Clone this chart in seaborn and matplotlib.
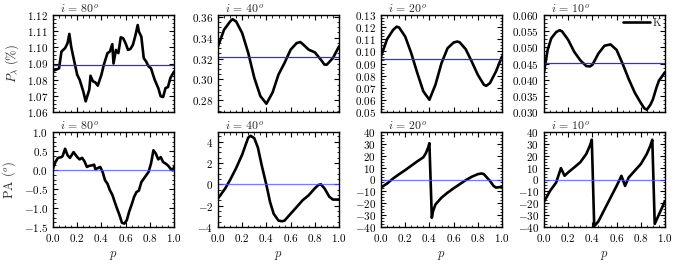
import numpy as np
import pandas as pd
import seaborn as sns
import matplotlib
matplotlib.use("Agg")
import matplotlib.pyplot as plt
from matplotlib.ticker import MultipleLocator, AutoMinorLocator, ScalarFormatter

# ---------------- data ----------------
inclinations = ["80", "40", "20", "10"]

# P_lambda (%), i = 80
p_pol80 = [0.0, 0.02, 0.05, 0.07, 0.10, 0.12, 0.135, 0.15, 0.17, 0.20, 0.22, 0.25, 0.27, 0.30, 0.31, 0.33,
           0.35, 0.37, 0.40, 0.42, 0.45, 0.47, 0.49, 0.50, 0.52, 0.54, 0.56, 0.58, 0.60, 0.62, 0.64, 0.66,
           0.68, 0.70, 0.71, 0.73, 0.75, 0.77, 0.79, 0.81, 0.84, 0.87, 0.89, 0.91, 0.93, 0.95, 0.97, 1.0]
pol80 = [1.0855, 1.086, 1.087, 1.0974, 1.0995, 1.1025, 1.1083, 1.1005, 1.0933, 1.083, 1.080, 1.0728,
         1.0666, 1.0738, 1.0824, 1.079, 1.0783, 1.0763, 1.083, 1.0892, 1.0964, 1.0974, 1.102, 1.090,
         1.0984, 1.0964, 1.1062, 1.1056, 1.1025, 1.0984, 1.099, 1.1015, 1.107, 1.1138, 1.1097, 1.1066,
         1.0933, 1.0912, 1.0882, 1.087, 1.080, 1.0748, 1.0697, 1.0693, 1.0748, 1.0754, 1.081, 1.085]

# P_lambda (%), i = 40
p_pol40 = [0.0, 0.05, 0.10, 0.12, 0.15, 0.20, 0.25, 0.30, 0.35, 0.40, 0.45, 0.50, 0.55, 0.60, 0.65,
           0.68, 0.70, 0.75, 0.80, 0.85, 0.88, 0.90, 0.95, 1.0]
pol40 = [0.3316, 0.3474, 0.3553, 0.3575, 0.3553, 0.3442, 0.3253, 0.3016, 0.2842, 0.2769, 0.2873,
         0.3047, 0.3158, 0.3284, 0.3347, 0.3357, 0.3338, 0.3284, 0.3259, 0.3189, 0.3142, 0.3142,
         0.3205, 0.3316]

# P_lambda (%), i = 20
p_pol20 = [0.0, 0.05, 0.10, 0.13, 0.15, 0.20, 0.25, 0.30, 0.35, 0.40, 0.45, 0.50, 0.55, 0.60, 0.63,
           0.65, 0.70, 0.75, 0.80, 0.85, 0.87, 0.90, 0.95, 1.0]
pol20 = [0.0958, 0.110, 0.1177, 0.1204, 0.1196, 0.1122, 0.0985, 0.0821, 0.067, 0.0601, 0.0725,
         0.0903, 0.1026, 0.1073, 0.1081, 0.1075, 0.1018, 0.0916, 0.0807, 0.0725, 0.0716, 0.0738,
         0.0834, 0.0958]

# P_lambda (%), i = 10
p_pol10 = [0.0, 0.03, 0.06, 0.10, 0.13, 0.15, 0.20, 0.25, 0.30, 0.35, 0.38, 0.40, 0.45, 0.50, 0.55,
           0.60, 0.65, 0.70, 0.75, 0.80, 0.83, 0.85, 0.88, 0.90, 0.93, 0.95, 1.0]
pol10 = [0.0423, 0.0492, 0.0528, 0.0547, 0.0553, 0.0549, 0.0523, 0.0486, 0.046, 0.0442, 0.0441,
         0.0446, 0.0481, 0.0505, 0.0509, 0.0492, 0.0449, 0.0402, 0.036, 0.0328, 0.0311, 0.0307,
         0.0323, 0.0339, 0.0376, 0.0397, 0.0423]

# PA (deg), i = 80
p_pa80 = [0.0, 0.02, 0.04, 0.07, 0.08, 0.10, 0.12, 0.14, 0.17, 0.20, 0.22, 0.24, 0.26, 0.28, 0.30,
          0.32, 0.34, 0.35, 0.37, 0.39, 0.41, 0.43, 0.45, 0.47, 0.49, 0.51, 0.53, 0.55, 0.57, 0.59,
          0.61, 0.63, 0.65, 0.67, 0.69, 0.71, 0.73, 0.75, 0.77, 0.79, 0.81, 0.83, 0.85, 0.87, 0.89,
          0.91, 0.93, 0.95, 0.97, 0.99, 1.0]
pa80 = [0.035, 0.21, 0.316, 0.34, 0.37, 0.56, 0.39, 0.32, 0.47, 0.34, 0.28, 0.32, 0.23, 0.08, 0.11,
        0.12, 0.14, 0.02, 0.05, 0.08, -0.05, -0.27, -0.36, -0.53, -0.65, -0.84, -1.02, -1.19, -1.39,
        -1.41, -1.32, -1.09, -0.91, -0.71, -0.58, -0.54, -0.32, -0.23, -0.14, -0.05, 0.17, 0.52, 0.43,
        0.28, 0.34, 0.21, 0.17, 0.12, 0.04, -0.01, 0.08]

# PA (deg), i = 40
p_pa40 = [0.0, 0.03, 0.06, 0.10, 0.15, 0.20, 0.23, 0.25, 0.27, 0.30, 0.33, 0.36, 0.40, 0.43, 0.46,
          0.50, 0.53, 0.55, 0.60, 0.65, 0.70, 0.75, 0.80, 0.83, 0.85, 0.88, 0.92, 0.95, 1.0]
pa40 = [-1.33, -0.86, -0.38, 0.41, 1.52, 2.79, 3.75, 4.38, 4.54, 4.32, 3.43, 1.84, -0.06, -1.65,
        -2.76, -3.40, -3.46, -3.40, -2.76, -2.13, -1.49, -1.02, -0.38, -0.06, 0.0, -0.38, -1.17,
        -1.43, -1.43]

# PA (deg), i = 20
p_pa20 = [0.0, 0.05, 0.10, 0.15, 0.20, 0.25, 0.30, 0.35, 0.37, 0.39, 0.40, 0.42, 0.43, 0.45, 0.50,
          0.55, 0.60, 0.65, 0.70, 0.75, 0.80, 0.83, 0.85, 0.90, 0.93, 0.95, 1.0]
pa20 = [-6.8, -3.4, 0.85, 4.5, 7.9, 11.6, 15.3, 18.7, 22.0, 27.0, 30.6, -32.3, -26.7, -21.0, -15.3,
        -11.1, -7.4, -4.0, -0.6, 2.3, 4.5, 5.1, 4.5, -1.1, -5.4, -6.8, -6.2]

# PA (deg), i = 10
p_pa10 = [0.0, 0.05, 0.10, 0.14, 0.17, 0.20, 0.25, 0.30, 0.35, 0.38, 0.395, 0.415, 0.45, 0.50, 0.55,
          0.60, 0.64, 0.67, 0.70, 0.75, 0.80, 0.85, 0.88, 0.895, 0.915, 0.95, 1.0]
pa10 = [-18.7, -9.6, -2.6, 9.6, 3.1, 6.0, 10.2, 14.5, 21.6, 28.7, 33.5, -39.4, -35.2, -25.2, -15.3,
        -5.4, 3.1, -5.4, 1.7, 7.4, 13.0, 21.6, 28.7, 33.5, -37.4, -29.5, -18.2]

# horizontal reference (mean) levels
pol_means = [1.0892, 0.3215, 0.0936, 0.0453]
pa_means = [0.0, 0.0, 0.0, -0.5]

pol_x = [p_pol80, p_pol40, p_pol20, p_pol10]
pol_y = [pol80, pol40, pol20, pol10]
pa_x = [p_pa80, p_pa40, p_pa20, p_pa10]
pa_y = [pa80, pa40, pa20, pa10]

pol_ylims = [(1.06, 1.12), (0.269, 0.3615), (0.05, 0.13), (0.030, 0.060)]
pol_steps = [0.01, 0.02, 0.01, 0.005]
pa_ylims = [(-1.5, 1.0), (-4, 4.9), (-40, 40), (-40, 40)]
pa_steps = [0.5, 2, 10, 10]

# ---------------- style ----------------
sns.set_style("ticks")
plt.rcParams.update({
    "font.family": "serif",
    "font.serif": ["cmr10", "DejaVu Serif"],
    "mathtext.fontset": "cm",
    "axes.formatter.use_mathtext": True,
    "axes.unicode_minus": True,
    "font.size": 8,
    "axes.linewidth": 1.0,
    "xtick.direction": "in",
    "ytick.direction": "in",
    "xtick.top": True,
    "ytick.right": True,
    "xtick.major.size": 3.5,
    "ytick.major.size": 3.5,
    "xtick.minor.size": 1.8,
    "ytick.minor.size": 1.8,
    "xtick.major.width": 0.8,
    "ytick.major.width": 0.8,
    "xtick.minor.width": 0.6,
    "ytick.minor.width": 0.6,
    "xtick.labelsize": 8,
    "ytick.labelsize": 8,
    "axes.edgecolor": "black",
    "xtick.color": "black",
    "ytick.color": "black",
})

fig = plt.figure(figsize=(6.84, 2.64), dpi=100)

lefts = [53, 218, 381, 544]
w = 121
rows = [(15, 112), (132, 227)]
W, H = 684.0, 264.0


def make_ax(col, row):
    top, bot = rows[row]
    return fig.add_axes([lefts[col] / W, 1 - bot / H, w / W, (bot - top) / H])


def style_ax(ax, ylim, step, show_x):
    ax.set_xlim(0, 1)
    ax.set_ylim(*ylim)
    ax.xaxis.set_major_locator(MultipleLocator(0.2))
    ax.xaxis.set_minor_locator(AutoMinorLocator(4))
    ax.yaxis.set_major_locator(MultipleLocator(step))
    ax.yaxis.set_minor_locator(AutoMinorLocator(4))
    fmt = ScalarFormatter(useOffset=False, useMathText=True)
    ax.yaxis.set_major_formatter(fmt)
    ax.tick_params(which="both", top=True, right=True, direction="in")
    if not show_x:
        ax.set_xticklabels([])
    for s in ax.spines.values():
        s.set_linewidth(1.0)


for c in range(4):
    # top row: polarisation degree
    ax = make_ax(c, 0)
    df = pd.DataFrame({"p": pol_x[c], "v": pol_y[c]})
    sns.lineplot(data=df, x="p", y="v", ax=ax, color="black", lw=1.9, estimator=None,
                 label="K" if c == 3 else None, legend=(c == 3))
    ax.axhline(pol_means[c], color="#2a2aff", lw=0.9)
    style_ax(ax, pol_ylims[c], pol_steps[c], False)
    ax.set_xlabel("")
    ax.set_ylabel(r"$P_\lambda$ (%)" if c == 0 else "", fontsize=9)
    ax.text(0.22, 0.985, r"$i\,=\,%s^o$" % inclinations[c], transform=ax.transAxes,
            ha="center", va="bottom", fontsize=8.5)
    if c == 3:
        ax.legend(loc="upper right", frameon=False, fontsize=8, handlelength=2.4,
                  handletextpad=0.3, borderaxespad=0.1, borderpad=0.2)

    # bottom row: position angle
    ax = make_ax(c, 1)
    df = pd.DataFrame({"p": pa_x[c], "v": pa_y[c]})
    sns.lineplot(data=df, x="p", y="v", ax=ax, color="black", lw=1.9, estimator=None, sort=False)
    ax.axhline(pa_means[c], color="#5555ff", lw=0.9, alpha=0.8)
    style_ax(ax, pa_ylims[c], pa_steps[c], True)
    ax.set_xlabel(r"$p$", fontsize=9)
    ax.set_ylabel(r"PA ($^o$)" if c == 0 else "", fontsize=9)
    ax.text(0.22, 0.985, r"$i\,=\,%s^o$" % inclinations[c], transform=ax.transAxes,
            ha="center", va="bottom", fontsize=8.5)

fig.savefig("out.png", dpi=100)
